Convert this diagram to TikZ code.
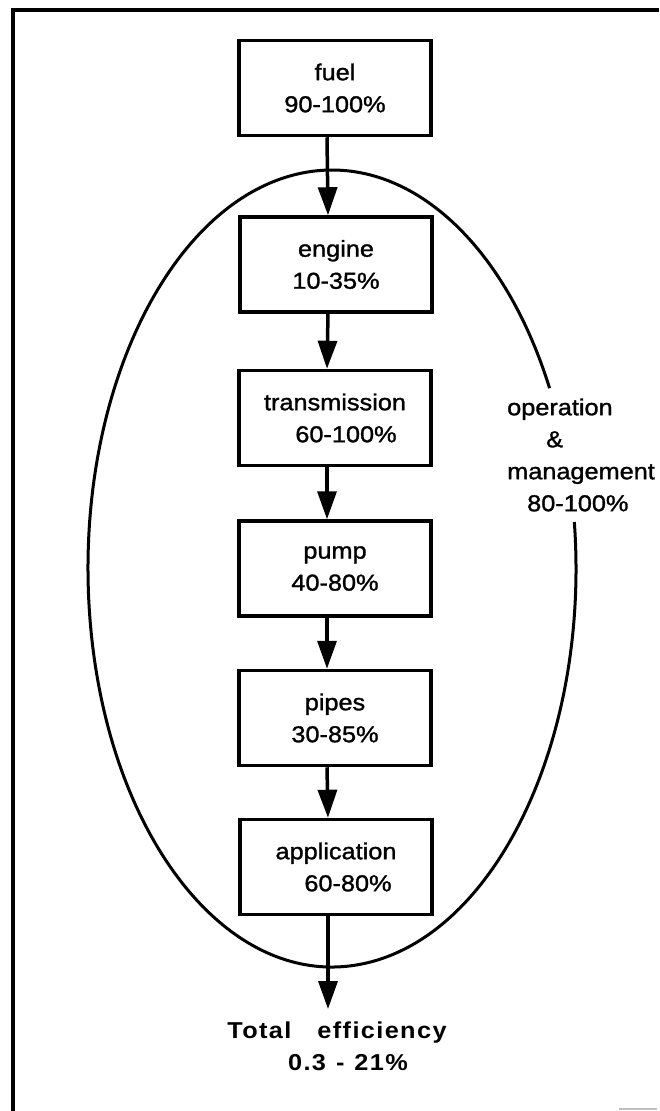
\documentclass[tikz,border=0pt]{standalone}
\usepackage{fontspec}
\setmainfont{Liberation Sans}[FakeStretch=1.1,FakeBold=1.3]
\newfontfamily\totalfont{Liberation Sans}[FakeStretch=1.1,LetterSpace=6]
\usetikzlibrary{arrows.meta}
\begin{document}
\begin{tikzpicture}[x=1pt,y=-1pt,
  box/.style={draw, line width=3.5pt, minimum width=192pt, minimum height=95pt,
    inner sep=0pt, align=center, font=\fontsize{23}{32}\selectfont},
  flow/.style={line width=3.5pt, -{Triangle[width=19pt,length=28pt]}},
  lbl/.style={inner sep=0pt, font=\fontsize{23}{32}\selectfont},
  frameline/.style={line width=4pt},
  loop/.style={line width=3pt}]
\useasboundingbox (0,0) rectangle (659,1111);
% open frame
\draw[frameline] (12.5,1111) -- (12.5,10) -- (659,10);
\draw[gray!50, line width=2pt] (619,1109) -- (657,1109);
% ellipse with gap for the label
\draw[loop] (332,568.5) ++(-6.7:244 and 398.5)
  arc[start angle=-6.7, end angle=333.1, x radius=244, y radius=398.5];
% boxes
\node[box] (fuel)   at (335,88)    {fuel\\90-100\%};
\node[box] (engine) at (336,264.5) {engine\\10-35\%};
\node[box] (trans)  at (335,418)   {transmission\\\hspace*{22pt}60-100\%};
\node[box] (pump)   at (335,568.5) {pump\\40-80\%};
\node[box] (pipes)  at (335,718)   {pipes\\30-85\%};
\node[box] (app)    at (336,867)   {application\\\hspace*{24pt}60-80\%};
% side label
\node[lbl, anchor=west, align=left] (om) at (507,455)
  {operation\\\hspace*{39pt}\&\\management\\\hspace*{20pt}80-100\%};
% result
\node[lbl, align=center] (total) at (337,1046)
  {\totalfont\bfseries Total\hspace{26pt}efficiency\\
   \totalfont\bfseries\hspace*{22pt}0.3\hspace{10pt}-\hspace{10pt}21\%};
\coordinate (tip) at (328,1009);
% arrows
\draw[flow] ([xshift=-8pt]fuel.south)   -- ([xshift=-8pt]engine.north);
\draw[flow] ([xshift=-8pt]engine.south) -- ([xshift=-8pt]trans.north);
\draw[flow] ([xshift=-8pt]trans.south)  -- ([xshift=-8pt]pump.north);
\draw[flow] ([xshift=-8pt]pump.south)   -- ([xshift=-8pt]pipes.north);
\draw[flow] ([xshift=-8pt]pipes.south)  -- ([xshift=-8pt]app.north);
\draw[flow] ([xshift=-8pt]app.south)    -- (tip);
\end{tikzpicture}
\end{document}
